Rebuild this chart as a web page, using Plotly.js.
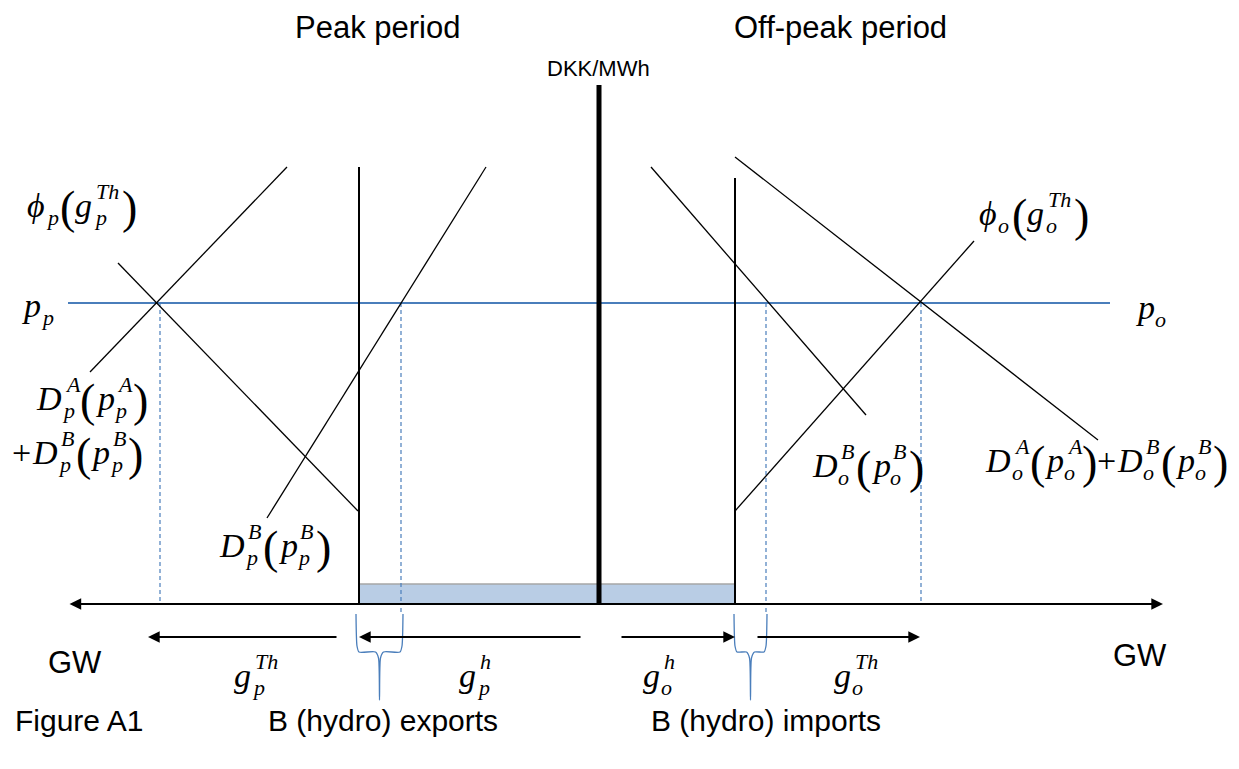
<!DOCTYPE html>
<html>
<head>
<meta charset="utf-8">
<script src="https://cdn.plot.ly/plotly-3.0.1.min.js"></script>
<style>html,body{margin:0;padding:0;background:#fff;}#chart{width:1239px;height:769px;}</style>
</head>
<body>
<div id="chart"></div>
<script>
// ---- Diagram data (diagram units: x = quantity axis, y = price axis, screen-like) ----
const axisY = 604;
const axisX = [68, 1163];
const priceAxisX = 599;
const priceAxisY = [85, 604];
const priceLineY = 303;
const priceLineX = [68, 1110];

// Peak period curves
const peakSupplyX = [90, 287];      const peakSupplyY = [372, 167];
const peakDemandX = [118, 358];     const peakDemandY = [263, 511];
const peakCapX = [359, 359];        const peakCapY = [167, 604];
const peakDemandBX = [267, 486];    const peakDemandBY = [518, 167];

// Off-peak period curves
const offDemandBX = [651, 866];     const offDemandBY = [167, 415];
const offCapX = [735, 735];         const offCapY = [178, 604];
const offDemandX = [735, 1098];     const offDemandY = [157, 440];
const offSupplyX = [735, 974];      const offSupplyY = [511, 241];

// Equilibrium quantities (dashed drop lines)
const dropX = [160, 401, 766, 921];

// Hydro reservoir band
const bandX = [359, 735];
const bandY = [584, 604];

// Quantity arrows [tailX, headX]
const arrowRowY = 637;
const arrowTails = [338, 582, 620, 756];
const arrowHeads = [148, 359, 735, 920];

// Braces [leftX, rightX]
const braceLeft = [356, 734];
const braceRight = [403, 767];
const braceTop = 614;
const braceBottom = 700;

// Plain labels
const titleTexts = ["Peak period", "Off-peak period"];
const titleX = [377, 840];
const footTexts = ["B (hydro) exports", "B (hydro) imports"];
const footX = [383, 766];

const traces = [];
function seg(x, y, color, width, dash) {
  traces.push({x: x, y: y, type: "scatter", mode: "lines", hoverinfo: "skip",
    line: {color: color, width: width, dash: dash || "solid"}, showlegend: false});
}

// shaded band
traces.push({x: [bandX[0], bandX[1], bandX[1], bandX[0], bandX[0]],
  y: [bandY[1], bandY[1], bandY[0], bandY[0], bandY[1]], type: "scatter", mode: "lines",
  fill: "toself", fillcolor: "#b9cde5", line: {color: "rgba(0,0,0,0)", width: 0}, hoverinfo: "skip", showlegend: false});
seg(bandX, [bandY[0], bandY[0]], "#a6a6a6", 1.5);

// dashed drop lines
dropX.forEach(x => seg([x, x], [priceLineY, axisY], "#4a7ebb", 1.2, "4px,3px"));
[dropX[1], dropX[2]].forEach(x => seg([x, x], [axisY + 4, braceTop], "#4a7ebb", 1.2, "4px,3px"));

// price line
seg(priceLineX, [priceLineY, priceLineY], "#4a7ebb", 1.8);

// curves
seg(peakSupplyX, peakSupplyY, "#000", 1.3);
seg(peakDemandX, peakDemandY, "#000", 1.3);
seg(peakCapX, peakCapY, "#000", 2);
seg(peakDemandBX, peakDemandBY, "#000", 1.3);
seg(offDemandBX, offDemandBY, "#000", 1.3);
seg(offCapX, offCapY, "#000", 2);
seg(offDemandX, offDemandY, "#000", 1.3);
seg(offSupplyX, offSupplyY, "#000", 1.3);

// central price axis
seg([priceAxisX, priceAxisX], priceAxisY, "#000", 5);

// braces
for (let i = 0; i < braceLeft.length; i++) {
  const l = braceLeft[i], r = braceRight[i], m = (l + r) / 2, t = braceTop, b = braceBottom;
  const mid = t + 38;
  traces.push({x: [l, l + 1, l + 3, m - 4, m - 1, m, m + 1, m + 4, r - 3, r - 1, r],
    y: [t, mid - 6, mid, mid, mid + 6, b, mid + 6, mid, mid, mid - 6, t],
    type: "scatter", mode: "lines", line: {color: "#4a7ebb", width: 1.3, shape: "spline", smoothing: 0.6},
    hoverinfo: "skip", showlegend: false});
}

const ann = [];
// horizontal double-headed axis
ann.push({x: axisX[1], y: axisY, ax: axisX[0], ay: axisY, xref: "x", yref: "y", axref: "x", ayref: "y",
  showarrow: true, arrowhead: 2, arrowside: "end+start", arrowsize: 1.3, arrowwidth: 1.8, arrowcolor: "#000", text: ""});
for (let i = 0; i < arrowTails.length; i++) {
  ann.push({x: arrowHeads[i], y: arrowRowY, ax: arrowTails[i], ay: arrowRowY, xref: "x", yref: "y", axref: "x", ayref: "y",
    showarrow: true, arrowhead: 2, arrowsize: 1.3, arrowwidth: 1.8, arrowcolor: "#000", text: ""});
}

const sans = "Liberation Sans, Arial, sans-serif";
const serifName = "Liberation Serif";
const serif = "Liberation Serif, Times New Roman, serif";

function txt(x, y, text, size, family, anchor) {
  ann.push({x: x, y: y, xref: "x", yref: "y", text: text, showarrow: false,
    xanchor: anchor || "center", yanchor: "middle", borderpad: 0, borderwidth: 0,
    font: {size: size, family: family, color: "#000"}});
}

txt(titleX[0], 27, titleTexts[0], 31, sans);
txt(titleX[1], 27, titleTexts[1], 31, sans);
txt(598, 68, "DKK/MWh", 22, sans);
txt(75, 662, "GW", 31, sans);
txt(1140, 655, "GW", 31, sans);
txt(15, 720, "Figure A1", 30, sans, "left");
txt(footX[0], 720, footTexts[0], 30, sans);
txt(footX[1], 720, footTexts[1], 30, sans);

// ---- math labels with stacked sub/superscripts ----
const cv = document.createElement("canvas").getContext("2d");
function measure(s, size, italic) {
  cv.font = (italic ? "italic " : "") + size + "px '" + serifName + "'";
  return cv.measureText(s).width;
}
// token: [base, sub, sup, kind]  kind: 'i' italic letter, 'r' roman, 'p' big paren
function mathLabel(cx, cy, toks, size) {
  const ss = Math.round(size * 0.64);
  const pieces = [];
  let x = 0;
  toks.forEach(tk => {
    const [base, sub, sup, kind] = tk;
    const bsz = kind === "p" ? Math.round(size * 1.35) : size;
    const it = kind === "i";
    const bw = measure(base, bsz, it);
    pieces.push({x: x, y: cy + (kind === "p" ? 2 : 0), text: it ? "<i>" + base + "</i>" : base, size: bsz});
    x += bw + (it ? size * 0.05 : 0);
    let sw = 0;
    if (sub) {
      pieces.push({x: x, y: cy + size * 0.36, text: "<i>" + sub + "</i>", size: ss});
      sw = Math.max(sw, measure(sub, ss, true));
    }
    if (sup) {
      pieces.push({x: x + size * 0.08, y: cy - size * 0.4, text: "<i>" + sup + "</i>", size: ss});
      sw = Math.max(sw, measure(sup, ss, true) + size * 0.08);
    }
    x += sw + (sw > 0 ? size * 0.06 : 0);
  });
  const x0 = cx - x / 2;
  pieces.forEach(p => ann.push({x: x0 + p.x, y: p.y, xref: "x", yref: "y", text: p.text, showarrow: false,
    xanchor: "left", yanchor: "middle", borderpad: 0, borderwidth: 0,
    font: {size: p.size, family: serif, color: "#000"}}));
}

const MS = 34;
mathLabel(82, 205, [["ϕ", "p", null, "i"], ["(", null, null, "p"], ["g", "p", "Th", "i"], [")", null, null, "p"]], MS);
mathLabel(38, 305, [["p", "p", null, "i"]], MS);
mathLabel(1152, 307, [["p", "o", null, "i"]], MS);
mathLabel(92, 398, [["D", "p", "A", "i"], ["(", null, null, "p"], ["p", "p", "A", "i"], [")", null, null, "p"]], MS);
mathLabel(78, 452, [["+", null, null, "r"], ["D", "p", "B", "i"], ["(", null, null, "p"], ["p", "p", "B", "i"], [")", null, null, "p"]], MS);
mathLabel(275, 545, [["D", "p", "B", "i"], ["(", null, null, "p"], ["p", "p", "B", "i"], [")", null, null, "p"]], MS);
mathLabel(1034, 213, [["ϕ", "o", null, "i"], ["(", null, null, "p"], ["g", "o", "Th", "i"], [")", null, null, "p"]], MS);
mathLabel(868, 465, [["D", "o", "B", "i"], ["(", null, null, "p"], ["p", "o", "B", "i"], [")", null, null, "p"]], MS);
mathLabel(1107, 460, [["D", "o", "A", "i"], ["(", null, null, "p"], ["p", "o", "A", "i"], [")", null, null, "p"],
  ["+", null, null, "r"], ["D", "o", "B", "i"], ["(", null, null, "p"], ["p", "o", "B", "i"], [")", null, null, "p"]], MS);
mathLabel(257, 675, [["g", "p", "Th", "i"]], MS);
mathLabel(476, 675, [["g", "p", "h", "i"]], MS);
mathLabel(660, 675, [["g", "o", "h", "i"]], MS);
mathLabel(857, 675, [["g", "o", "Th", "i"]], MS);

const layout = {
  width: 1239, height: 769,
  margin: {l: 0, r: 0, t: 0, b: 0},
  paper_bgcolor: "#fff", plot_bgcolor: "#fff",
  xaxis: {range: [0, 1239], visible: false, fixedrange: true},
  yaxis: {range: [769, 0], visible: false, fixedrange: true},
  annotations: ann,
  showlegend: false
};
Plotly.newPlot("chart", traces, layout, {displayModeBar: false, staticPlot: true});
</script>
</body>
</html>
